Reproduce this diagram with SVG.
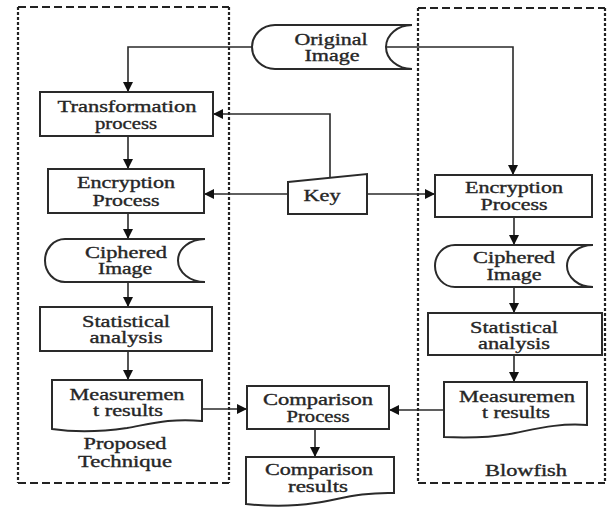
<svg xmlns="http://www.w3.org/2000/svg" width="607" height="508" viewBox="0 0 607 508">
<defs>
<style>
.box{fill:#fff;stroke:#2a2a2a;stroke-width:2}
.ln{fill:none;stroke:#2a2a2a;stroke-width:1.6}
.dh{fill:none;stroke:#222;stroke-width:2;stroke-dasharray:8,4}
.dv{fill:none;stroke:#222;stroke-width:2.2;stroke-dasharray:3,2}
text{font-family:"Liberation Serif","Times New Roman",serif;font-size:16px;font-weight:normal;fill:#262626;stroke:#262626;stroke-width:0.35;text-anchor:middle}
</style>
<marker id="ah" viewBox="0 0 10 10" refX="10" refY="5" markerWidth="10" markerHeight="10" markerUnits="userSpaceOnUse" orient="auto">
<path d="M0,0 L10,5 L0,10 z" fill="#111"/>
</marker>
</defs>
<rect width="607" height="508" fill="#fff"/>

<g id="group-proposed">
<line class="dh" x1="18" y1="7" x2="229" y2="7"/>
<line class="dh" x1="18" y1="483" x2="229" y2="483"/>
<line class="dv" x1="18" y1="7" x2="18" y2="483"/>
<line class="dv" x1="229" y1="7" x2="229" y2="483"/>
<text x="125" y="449" textLength="83" lengthAdjust="spacingAndGlyphs">Proposed</text>
<text x="125" y="467" textLength="94" lengthAdjust="spacingAndGlyphs">Technique</text>
</g>

<g id="group-blowfish">
<line class="dh" x1="418" y1="8" x2="605" y2="8"/>
<line class="dh" x1="418" y1="483" x2="605" y2="483"/>
<line class="dv" x1="418" y1="8" x2="418" y2="483"/>
<line class="dv" x1="605" y1="8" x2="605" y2="483"/>
<text x="526" y="476" textLength="82" lengthAdjust="spacingAndGlyphs">Blowfish</text>
</g>

<g id="connectors">
<path class="ln" d="M252,47 H128 V92" marker-end="url(#ah)"/>
<path class="ln" d="M386,47 H513 V175" marker-end="url(#ah)"/>
<path class="ln" d="M128,136 V169" marker-end="url(#ah)"/>
<path class="ln" d="M330,178 V114 H213" marker-end="url(#ah)"/>
<path class="ln" d="M288,194 H204" marker-end="url(#ah)"/>
<path class="ln" d="M367,194 H435" marker-end="url(#ah)"/>
<path class="ln" d="M128,213 V239" marker-end="url(#ah)"/>
<path class="ln" d="M128,282 V307" marker-end="url(#ah)"/>
<path class="ln" d="M128,351 V380" marker-end="url(#ah)"/>
<path class="ln" d="M196,409 H247" marker-end="url(#ah)"/>
<path class="ln" d="M444,410 H389" marker-end="url(#ah)"/>
<path class="ln" d="M315,429 V457" marker-end="url(#ah)"/>
<path class="ln" d="M514,217 V245" marker-end="url(#ah)"/>
<path class="ln" d="M514,287 V313" marker-end="url(#ah)"/>
<path class="ln" d="M514,355 V382" marker-end="url(#ah)"/>
</g>

<g id="original-image">
<path class="box" d="M412,25 H275 A23 22 0 0 0 275,69 H412 A26 22 0 0 1 412,25"/>
<text x="331" y="45" textLength="73" lengthAdjust="spacingAndGlyphs">Original</text>
<text x="332" y="61" textLength="55" lengthAdjust="spacingAndGlyphs">Image</text>
</g>

<g id="transformation">
<rect class="box" x="40" y="92" width="173" height="44"/>
<text x="127" y="112" textLength="139" lengthAdjust="spacingAndGlyphs">Transformation</text>
<text x="126" y="129" textLength="62" lengthAdjust="spacingAndGlyphs">process</text>
</g>

<g id="encryption-left">
<rect class="box" x="48" y="169" width="156" height="44"/>
<text x="126" y="188" textLength="98" lengthAdjust="spacingAndGlyphs">Encryption</text>
<text x="126" y="206" textLength="67" lengthAdjust="spacingAndGlyphs">Process</text>
</g>

<g id="key">
<path class="box" d="M288,182 L367,174 V214 H288 Z"/>
<text x="322" y="201" textLength="37" lengthAdjust="spacingAndGlyphs">Key</text>
</g>

<g id="ciphered-left">
<path class="box" d="M205,239 H65 A20 21.5 0 0 0 65,282 H205 A27 21.5 0 0 1 205,239"/>
<text x="126" y="258" textLength="82" lengthAdjust="spacingAndGlyphs">Ciphered</text>
<text x="125" y="274" textLength="54" lengthAdjust="spacingAndGlyphs">Image</text>
</g>

<g id="statistical-left">
<rect class="box" x="40" y="307" width="172" height="44"/>
<text x="126" y="327" textLength="88" lengthAdjust="spacingAndGlyphs">Statistical</text>
<text x="126" y="343" textLength="73" lengthAdjust="spacingAndGlyphs">analysis</text>
</g>

<g id="measurement-left">
<path class="box" d="M52,380 H202 V421 C170,418 150,424 127,428 C100,432 72,432 52,429 Z"/>
<text x="127" y="400" textLength="115" lengthAdjust="spacingAndGlyphs">Measuremen</text>
<text x="128" y="416" textLength="70" lengthAdjust="spacingAndGlyphs">t results</text>
</g>

<g id="encryption-right">
<rect class="box" x="435" y="175" width="157" height="42"/>
<text x="514" y="193" textLength="98" lengthAdjust="spacingAndGlyphs">Encryption</text>
<text x="514" y="210" textLength="67" lengthAdjust="spacingAndGlyphs">Process</text>
</g>

<g id="ciphered-right">
<path class="box" d="M593,245 H455 A20 21 0 0 0 455,287 H593 A26 21 0 0 1 593,245"/>
<text x="514" y="263" textLength="82" lengthAdjust="spacingAndGlyphs">Ciphered</text>
<text x="514" y="280" textLength="55" lengthAdjust="spacingAndGlyphs">Image</text>
</g>

<g id="statistical-right">
<rect class="box" x="428" y="313" width="174" height="42"/>
<text x="514" y="333" textLength="88" lengthAdjust="spacingAndGlyphs">Statistical</text>
<text x="514" y="349" textLength="72" lengthAdjust="spacingAndGlyphs">analysis</text>
</g>

<g id="measurement-right">
<path class="box" d="M444,382 H587 V425 C560,423 540,428 515,433 C490,438 465,438 444,437 Z"/>
<text x="517" y="402" textLength="116" lengthAdjust="spacingAndGlyphs">Measuremen</text>
<text x="516" y="418" textLength="68" lengthAdjust="spacingAndGlyphs">t results</text>
</g>

<g id="comparison-process">
<rect class="box" x="247" y="386" width="142" height="43"/>
<text x="318" y="405" textLength="110" lengthAdjust="spacingAndGlyphs">Comparison</text>
<text x="318" y="422" textLength="63" lengthAdjust="spacingAndGlyphs">Process</text>
</g>

<g id="comparison-results">
<path class="box" d="M246,457 H394 V493 C362,492 340,499 315,503 C290,507 265,506 246,504 Z"/>
<text x="319" y="475" textLength="108" lengthAdjust="spacingAndGlyphs">Comparison</text>
<text x="318" y="492" textLength="60" lengthAdjust="spacingAndGlyphs">results</text>
</g>
</svg>
